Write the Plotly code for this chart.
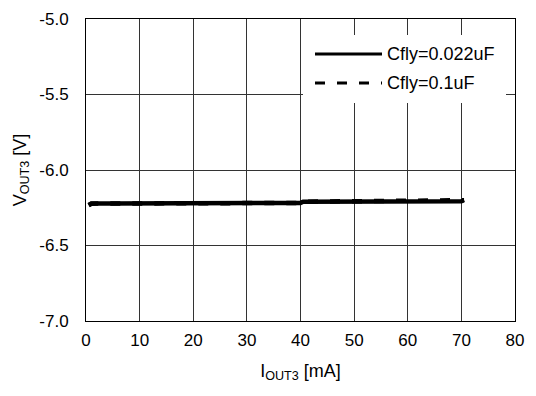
import plotly.graph_objects as go

# Data
iout_a = [0.5, 1, 5, 10, 20, 30, 40, 40.5, 50, 60, 70, 70.5]
vout_022 = [-6.232, -6.222, -6.222, -6.221, -6.220, -6.219, -6.218, -6.210, -6.209, -6.208, -6.207, -6.199]
vout_01 = [-6.233, -6.223, -6.222, -6.221, -6.220, -6.219, -6.218, -6.210, -6.209, -6.208, -6.207, -6.200]

series_names = ["Cfly=0.022uF", "Cfly=0.1uF"]
x_ticks = [0, 10, 20, 30, 40, 50, 60, 70, 80]
y_ticks = [-7.0, -6.5, -6.0, -5.5, -5.0]

FONT = "Liberation Sans, Arial, sans-serif"
FS = 17

fig = go.Figure()
fig.add_trace(go.Scatter(x=iout_a, y=vout_01, mode="lines", name=series_names[1],
                         line=dict(color="black", width=4.5, dash="10px,12px"), showlegend=False))
fig.add_trace(go.Scatter(x=iout_a, y=vout_022, mode="lines", name=series_names[0],
                         line=dict(color="black", width=4.5), showlegend=False))

axis_common = dict(showline=True, linecolor="black", linewidth=1, mirror=True,
                   showgrid=True, gridcolor="#333333", gridwidth=1, zeroline=False,
                   ticks="", tickfont=dict(family=FONT, size=FS, color="black"))

fig.update_xaxes(range=[0, 80], tickvals=x_ticks, ticktext=[str(v) for v in x_ticks],
                 title=dict(text="I<sub>OUT3</sub> [mA]", font=dict(family=FONT, size=18, color="black"), standoff=14),
                 ticklabelstandoff=4, automargin=True, **axis_common)
fig.update_yaxes(range=[-7.0, -5.0], tickvals=y_ticks, ticktext=[f"{v:.1f}" for v in y_ticks],
                 title=dict(text="V<sub>OUT3</sub> [V]", font=dict(family=FONT, size=18, color="black"), standoff=8),
                 ticklabelstandoff=13, automargin=False, **axis_common)

# Manual legend (white box over the grid, long line samples)
L, PW, T, PH = 86, 429, 19, 302
def px(v):
    return (v - L) / PW
def py(v):
    return 1 - (v - T) / PH

shapes = [
    dict(type="rect", xref="paper", yref="paper", x0=px(303), x1=px(506), y0=py(103), y1=py(35),
         fillcolor="white", line=dict(width=0), layer="above"),
    dict(type="line", xref="paper", yref="paper", x0=px(315), x1=px(382), y0=py(54), y1=py(54),
         line=dict(color="black", width=3), layer="above"),
    dict(type="line", xref="paper", yref="paper", x0=px(315), x1=px(382), y0=py(83), y1=py(83),
         line=dict(color="black", width=3, dash="10px,12px"), layer="above"),
]
annotations = [
    dict(text=series_names[0], xref="paper", yref="paper", x=px(385), y=py(54),
         xanchor="left", yanchor="middle", showarrow=False, font=dict(family=FONT, size=18, color="black")),
    dict(text=series_names[1], xref="paper", yref="paper", x=px(385), y=py(83),
         xanchor="left", yanchor="middle", showarrow=False, font=dict(family=FONT, size=18, color="black")),
]

# page body has an 8px margin, so the figure is sized/margined to land on the reference pixels
fig.update_layout(width=520, height=380, margin=dict(l=78, r=13, t=11, b=67, autoexpand=False),
                  paper_bgcolor="white", plot_bgcolor="white",
                  font=dict(family=FONT, size=FS, color="black"),
                  shapes=shapes, annotations=annotations, showlegend=False)

fig.write_html("out.html")
